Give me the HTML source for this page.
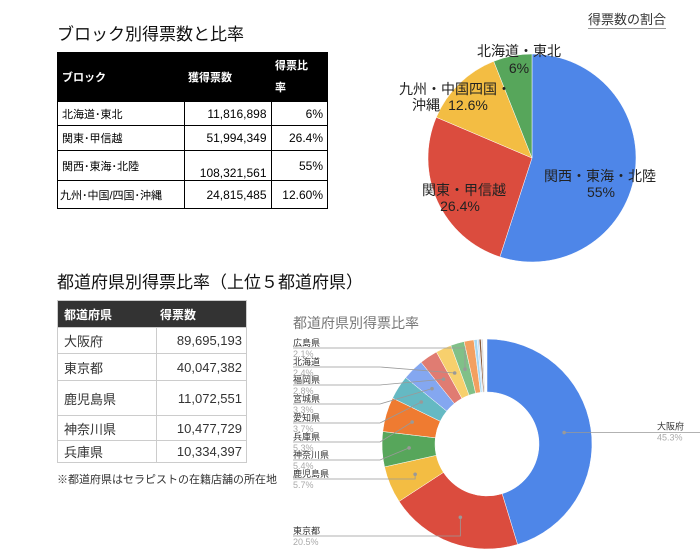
<!DOCTYPE html>
<html><head><meta charset="utf-8">
<style>
body{margin:0;background:#fff;width:700px;height:555px;overflow:hidden;font-family:"Liberation Sans","Noto Sans CJK JP",sans-serif;}
.a{position:absolute}
table{border-collapse:collapse;position:absolute;font-size:12px;table-layout:fixed}
td{padding:0 4px;white-space:nowrap;overflow:hidden}
</style></head><body>
<div class="a" style="left:57px;top:20px;font-size:17px;color:#111">ブロック別得票数と比率</div>
<table style="left:57px;top:52px;width:271px;border:1px solid #000">
<tr style="background:#000;color:#fff;height:49px;font-weight:bold;font-size:11px"><td style="width:118px">ブロック</td><td style="width:79px">獲得票数</td><td style="line-height:22px">得票比<br>率</td></tr>
<tr style="height:24px"><td style="border:1px solid #000;font-size:11px">北海道･東北</td><td style="border:1px solid #000;text-align:right">11,816,898</td><td style="border:1px solid #000;text-align:right">6%</td></tr>
<tr style="height:25px"><td style="border:1px solid #000;font-size:11px">関東･甲信越</td><td style="border:1px solid #000;text-align:right">51,994,349</td><td style="border:1px solid #000;text-align:right">26.4%</td></tr>
<tr style="height:30px"><td style="border:1px solid #000;font-size:11px">関西･東海･北陸</td><td style="border:1px solid #000;text-align:right;vertical-align:bottom">108,321,561</td><td style="border:1px solid #000;text-align:right">55%</td></tr>
<tr style="height:28px"><td style="border:1px solid #000;font-size:11px;padding:0 2px">九州･中国/四国･沖縄</td><td style="border:1px solid #000;text-align:right">24,815,485</td><td style="border:1px solid #000;text-align:right">12.60%</td></tr>
</table>
<div class="a" style="left:588px;top:9px;font-size:13px;color:#333;border-bottom:1px solid #999">得票数の割合</div>

<div class="a" style="left:57px;top:268px;font-size:17px;color:#111">都道府県別得票比率（上位５都道府県）</div>
<table style="left:57px;top:300px;width:190px;border:1px solid #ccc;font-size:13px;color:#333">
<tr style="background:#333;color:#fff;height:27px;font-weight:bold;font-size:12px"><td style="width:88px;padding-left:6px">都道府県</td><td>得票数</td></tr>
<tr style="height:26px"><td style="border:1px solid #ccc;padding-left:6px">大阪府</td><td style="border:1px solid #ccc;text-align:right">89,695,193</td></tr>
<tr style="height:27px"><td style="border:1px solid #ccc;padding-left:6px">東京都</td><td style="border:1px solid #ccc;text-align:right">40,047,382</td></tr>
<tr style="height:35px"><td style="border:1px solid #ccc;padding-left:6px">鹿児島県</td><td style="border:1px solid #ccc;text-align:right">11,072,551</td></tr>
<tr style="height:25px"><td style="border:1px solid #ccc;padding-left:6px">神奈川県</td><td style="border:1px solid #ccc;text-align:right">10,477,729</td></tr>
<tr style="height:22px"><td style="border:1px solid #ccc;padding-left:6px">兵庫県</td><td style="border:1px solid #ccc;text-align:right">10,334,397</td></tr>
</table>
<div class="a" style="left:57px;top:471px;font-size:11px;color:#333">※都道府県はセラピストの在籍店舗の所在地</div>
<div class="a" style="left:293px;top:313px;font-size:14px;color:#777">都道府県別得票比率</div>

<svg id="s" class="a" style="left:0;top:0" width="700" height="555"></svg>
<script>
var s=document.getElementById('s'),h='';
function P(cx,cy,r,ri,a0,a1,c){var f=function(r,a){a=a*Math.PI/180;return[cx+r*Math.sin(a),cy-r*Math.cos(a)]};
var l=(a1-a0)>180?1:0,p=f(r,a0),q=f(r,a1),d='M'+p+'A'+r+','+r+' 0 '+l+' 1 '+q;
if(ri){var u=f(ri,a1),v=f(ri,a0);d+='L'+u+'A'+ri+','+ri+' 0 '+l+' 0 '+v+'Z';}else d+='L'+cx+','+cy+'Z';
h+='<path d="'+d+'" fill="'+c+'" stroke="#fff" stroke-width="0.5"/>';}
var a=0;[[55,'#4e86e8'],[26.4,'#db4c3e'],[12.6,'#f3bd43'],[6,'#57a65b']].forEach(function(x){P(532,158,104,0,a,a+x[0]*3.6,x[1]);a+=x[0]*3.6;});
var d=[[45.3,'#4e86e8'],[20.5,'#db4c3e'],[5.7,'#f3bd43'],[5.4,'#57a65b'],[5.3,'#ef7b31'],[3.7,'#65b9c3'],[3.3,'#84a7f0'],[2.8,'#e07c72'],[2.4,'#f7d06d'],[2.1,'#80c088'],[1.5,'#f3a060'],[0.5,'#a7d7f0'],[0.3,'#c8e0f8'],[0.3,'#8a5a3a'],[0.3,'#ddd']];
a=0;var mids=[];d.forEach(function(x){mids.push(a+x[0]*1.8);P(487,444,105,52,a,a+x[0]*3.6,x[1]);a+=x[0]*3.6;});
function pt(i){var r=(mids[i])*Math.PI/180;return[487+78*Math.sin(r),444-78*Math.cos(r)];}
var L=[[9,'広島県','2.1%',348],[8,'北海道','2.4%',367],[7,'福岡県','2.8%',385],[6,'宮城県','3.3%',404],[5,'愛知県','3.7%',423],[4,'兵庫県','5.3%',442],[3,'神奈川県','5.4%',460],[2,'鹿児島県','5.7%',479],[1,'東京都','20.5%',536]];
L.forEach(function(x){var p=pt(x[0]);var bx=x[0]==9||x[0]==2||x[0]==1?p[0]:380;
h+='<polyline points="293,'+x[3]+' '+bx+','+x[3]+' '+p+'" fill="none" stroke="#999" stroke-width="0.8"/><circle cx="'+p[0]+'" cy="'+p[1]+'" r="1.8" fill="#999"/>';
h+='<text x="293" y="'+(x[3]-2)+'" font-size="9" fill="#333">'+x[1]+'</text><text x="293" y="'+(x[3]+9)+'" font-size="9" fill="#aaa">'+x[2]+'</text>';});
var p=pt(0);h+='<polyline points="'+p+' 700,'+p[1]+'" fill="none" stroke="#999" stroke-width="0.8"/><circle cx="'+p[0]+'" cy="'+p[1]+'" r="1.8" fill="#999"/><text x="657" y="'+(p[1]-3)+'" font-size="9" fill="#333">大阪府</text><text x="657" y="'+(p[1]+8)+'" font-size="9" fill="#aaa">45.3%</text>';
var T=function(x,y,t){h+='<text x="'+x+'" y="'+y+'" font-size="14" fill="#222" text-anchor="middle">'+t+'</text>';};
T(519,56,'北海道・東北');T(519,73,'6%');T(455,94,'九州・中国四国・');T(426,110,'沖縄');T(468,110,'12.6%');
T(464,195,'関東・甲信越');T(460,211,'26.4%');T(600,181,'関西・東海・北陸');T(601,197,'55%');
s.innerHTML=h;
</script>
</body></html>
